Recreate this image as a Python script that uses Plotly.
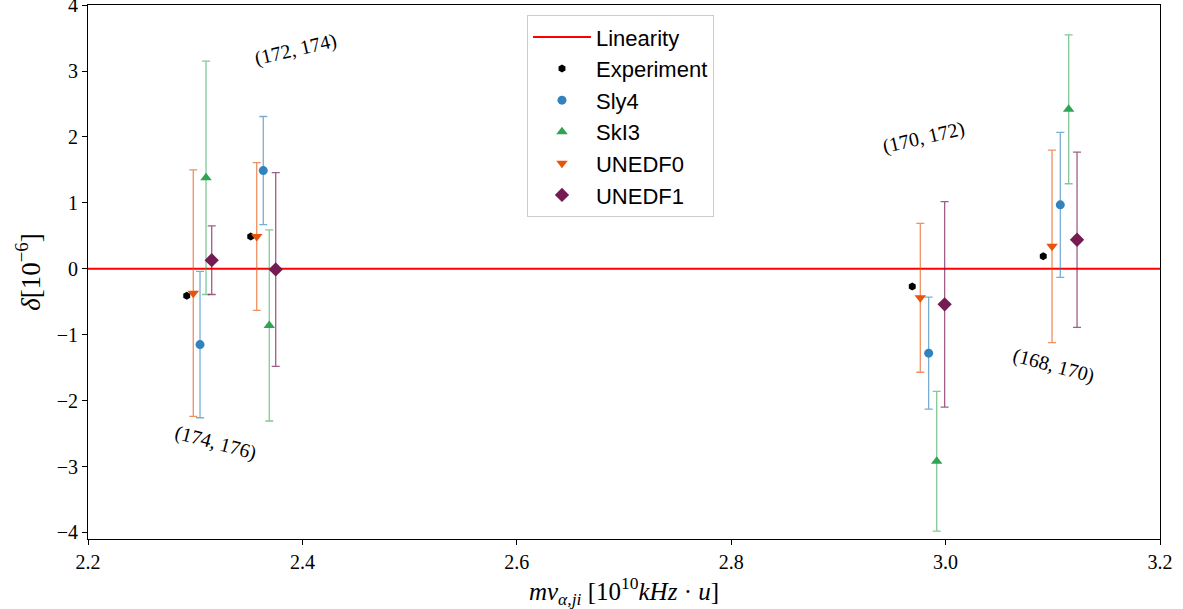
import plotly.graph_objects as go

# Isotope-pair positions (m * nu) and nonlinearity delta, in units of 1e-6
pairs = ["(174, 176)", "(172, 174)", "(170, 172)", "(168, 170)"]

exp_x = [2.2921, 2.3518, 2.9689, 3.0911]
exp_y = [-0.41, 0.49, -0.27, 0.19]

sly4_x = [2.3045, 2.3635, 2.9842, 3.1070]
sly4_y = [-1.15, 1.49, -1.28, 0.97]
sly4_err = [1.11, 0.82, 0.85, 1.10]

ski3_x = [2.3101, 2.3691, 2.9917, 3.1148]
ski3_y = [1.38, -0.86, -2.92, 2.42]
ski3_err = [1.77, 1.45, 1.06, 1.13]

unedf0_x = [2.2982, 2.3574, 2.9764, 3.0993]
unedf0_y = [-0.37, 0.49, -0.44, 0.34]
unedf0_err = [1.87, 1.12, 1.13, 1.46]

unedf1_x = [2.3154, 2.3751, 2.9991, 3.1226]
unedf1_y = [0.13, -0.01, -0.54, 0.44]
unedf1_err = [0.52, 1.47, 1.56, 1.33]

# label positions and tilt for each isotope pair
label_x = [2.3185, 2.3937, 2.9792, 3.1005]
label_y = [-2.64, 3.33, 1.99, -1.47]
label_angle = [15, -13, -13, 15]

x_range = [2.2, 3.2]
y_range = [-4.1, 4.002]

fig = go.Figure()

fig.add_trace(go.Scatter(
    x=x_range, y=[0, 0], mode="lines", name="Linearity",
    line=dict(color="#ff0000", width=2),
))

fig.add_trace(go.Scatter(
    x=exp_x, y=exp_y, mode="markers", name="Experiment",
    marker=dict(symbol="hexagon", size=8, color="black"),
))

models = [
    ("Sly4", sly4_x, sly4_y, sly4_err, "#3182bd", "rgba(49,130,189,0.65)", "circle", 9),
    ("SkI3", ski3_x, ski3_y, ski3_err, "#31a354", "rgba(49,163,84,0.6)", "triangle-up", 10),
    ("UNEDF0", unedf0_x, unedf0_y, unedf0_err, "#e6550d", "rgba(230,85,13,0.65)", "triangle-down", 10),
    ("UNEDF1", unedf1_x, unedf1_y, unedf1_err, "#761a52", "rgba(118,26,82,0.7)", "diamond", 11),
]
for name, xs, ys, errs, col, ecol, sym, size in models:
    fig.add_trace(go.Scatter(
        x=xs, y=ys, mode="markers", name=name,
        marker=dict(symbol=sym, size=size, color=col),
        error_y=dict(type="data", array=errs, visible=True,
                     color=ecol, thickness=1.3, width=4),
    ))

for txt, lx, ly, ang in zip(pairs, label_x, label_y, label_angle):
    fig.add_annotation(
        x=lx, y=ly, text=txt, showarrow=False, textangle=ang,
        font=dict(family="Liberation Serif", size=20, color="black"),
    )

axis_common = dict(
    showgrid=False, zeroline=False, showline=True, linecolor="black",
    linewidth=1, mirror=True, ticks="outside", ticklen=5, tickwidth=1,
    tickcolor="black", ticklabeloverflow="allow", automargin=False,
    tickfont=dict(family="Liberation Serif", size=20, color="black"),
)

fig.update_xaxes(
    range=x_range, tickvals=[2.2, 2.4, 2.6, 2.8, 3.0, 3.2],
    ticktext=["2.2", "2.4", "2.6", "2.8", "3.0", "3.2"],
    title=dict(
        text="<i>mν</i><sub><i>α,ji</i></sub> [10<sup>10</sup><i>kHz</i> · <i>u</i>]",
        font=dict(family="Liberation Serif", size=25, color="black"),
        standoff=6,
    ),
    **axis_common,
)
fig.update_yaxes(
    range=y_range, tickvals=[-4, -3, -2, -1, 0, 1, 2, 3, 4],
    ticktext=["−4", "−3", "−2", "−1", "0", "1", "2", "3", "4"],
    title=dict(
        text="<i>δ</i>[10<sup>−6</sup>]",
        font=dict(family="Liberation Serif", size=27, color="black"),
        standoff=8,
    ),
    **axis_common,
)

fig.update_layout(
    width=1183, height=609,
    margin=dict(l=88, r=23, t=5, b=70, autoexpand=False),
    plot_bgcolor="white", paper_bgcolor="white",
    showlegend=True,
    legend=dict(
        x=0.4095, y=0.981, xanchor="left", yanchor="top",
        bgcolor="white", bordercolor="#cccccc", borderwidth=1,
        font=dict(family="Liberation Sans", size=22, color="black"),
        itemwidth=58,
    ),
)

fig.write_html("out.html")
